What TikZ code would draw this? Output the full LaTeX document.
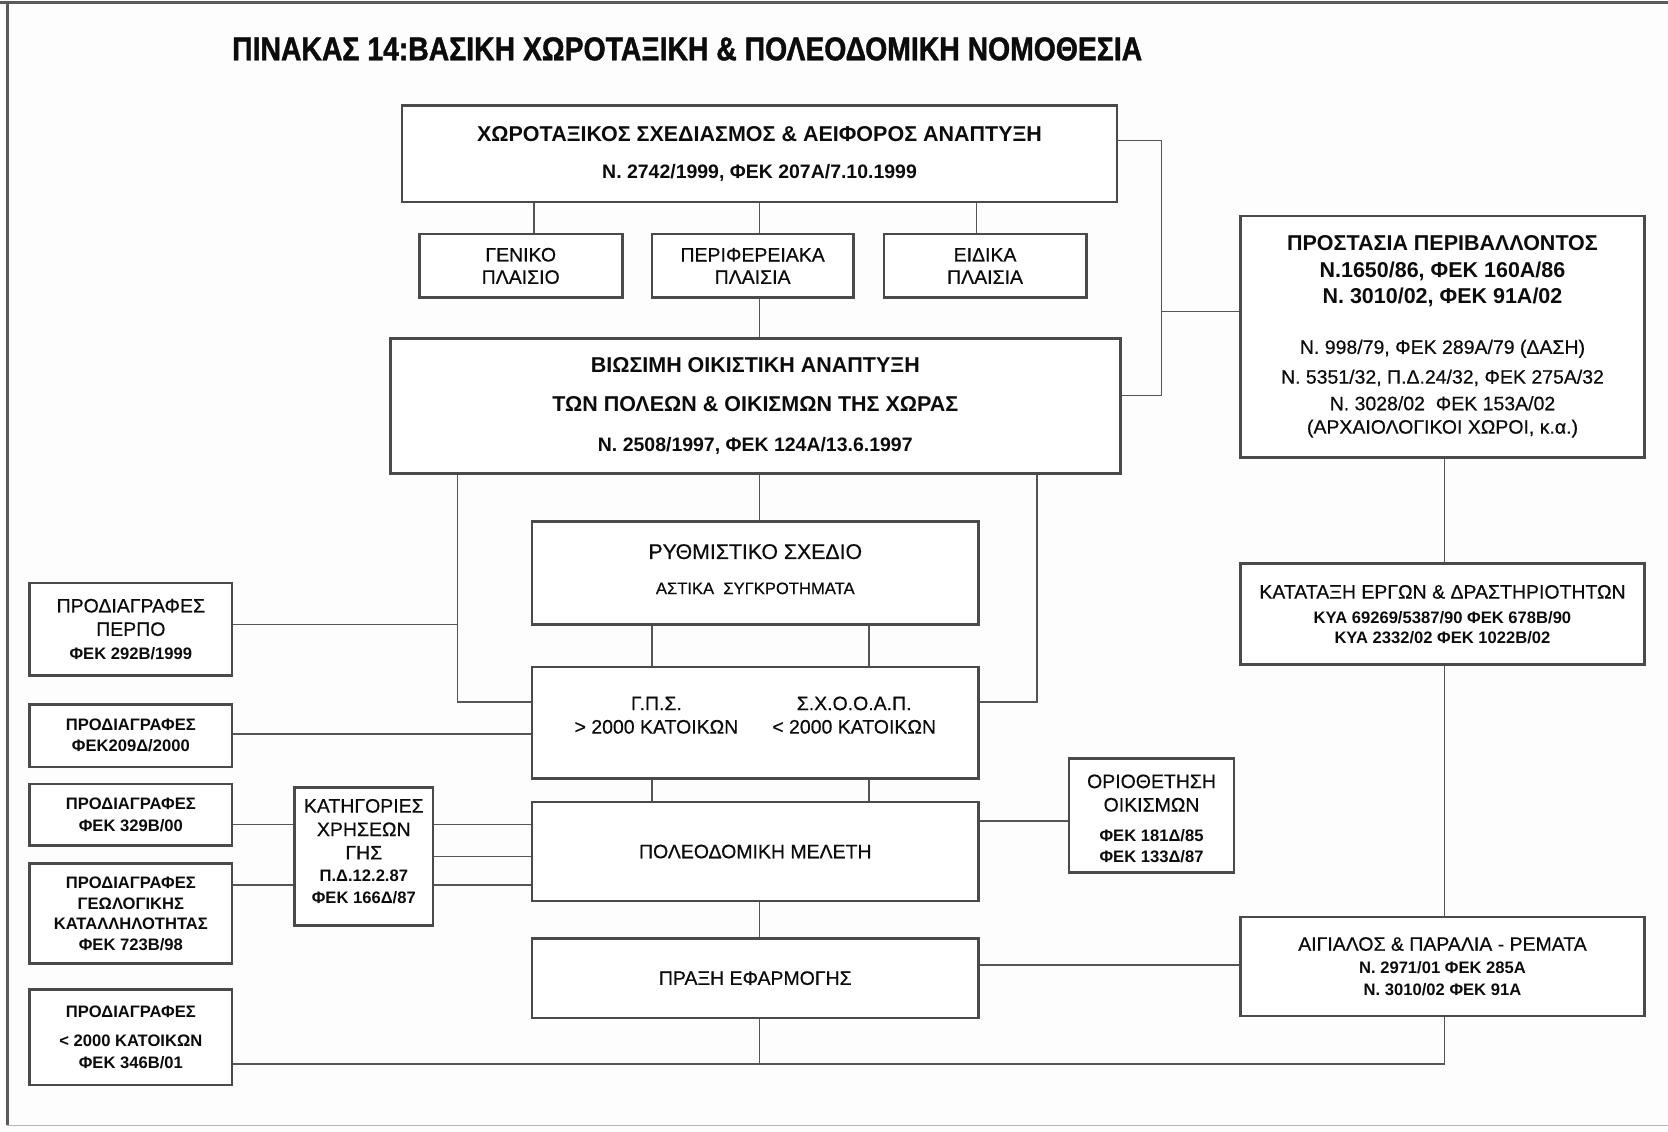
\documentclass[tikz,border=0pt]{standalone}
\usepackage{fontspec}
\setmainfont{Liberation Sans}[UprightFeatures={FakeBold=0.5}]
\newfontfamily\headfont{Liberation Sans}[FakeStretch=0.86,BoldFeatures={FakeBold=1.2}]
\definecolor{paper}{HTML}{FDFDFD}
\definecolor{ink}{HTML}{0C0C0C}
\definecolor{boxc}{HTML}{4A4A4A}
\definecolor{wirec}{HTML}{555555}
\definecolor{framec}{HTML}{5A5A5A}
% font helpers (sizes in pt, picture unit is 1pt)
\newcommand\lsk[1]{\fontsize{18.3}{#1}\selectfont}
\newcommand\fBL{\bfseries\fontsize{20.2}{22}\selectfont}
\newcommand\fBM{\bfseries\fontsize{18.3}{22}\selectfont}
\newcommand\fBS{\bfseries\fontsize{15.6}{18}\selectfont}
\begin{document}
\begin{tikzpicture}[x=1pt,y=-1pt,
  box/.style={draw=boxc,line width=2.6pt,fill=white,inner sep=0pt,align=center,text=ink},
  wire/.style={draw=wirec,line width=1.4pt},
  framel/.style={draw=framec,line width=2pt}]
\useasboundingbox (0,0) rectangle (1568,1064);
\fill[paper] (0,0) rectangle (1568,1064);

% page frame
\coordinate (ftl) at (7,2);
\coordinate (ftr) at (1568,2);
\coordinate (fbl) at (7,1058);
\coordinate (fbr) at (1568,1058);
\draw[framel,line width=3pt] (0,2) -- (ftr);
\draw[framel] (ftl) -- (fbl);
\draw[draw=framec!45,line width=1.2pt] (fbl) -- (fbr);

% title
\node[text=ink,font=\headfont\bfseries\fontsize{31}{32}\selectfont,inner sep=0pt] (title) at (646,46)
  {ΠΙΝΑΚΑΣ 14:ΒΑΣΙΚΗ ΧΩΡΟΤΑΞΙΚΗ \& ΠΟΛΕΟΔΟΜΙΚΗ ΝΟΜΟΘΕΣΙΑ};

% central column
\node[box,minimum width=672pt,minimum height=91pt,font=\lsk{35}] (plan) at (714,144.5)
  {{\fBL ΧΩΡΟΤΑΞΙΚΟΣ ΣΧΕΔΙΑΣΜΟΣ \& ΑΕΙΦΟΡΟΣ ΑΝΑΠΤΥΞΗ}\\{\fBM Ν. 2742/1999, ΦΕΚ 207Α/7.10.1999}};
\node[box,minimum width=191pt,minimum height=60pt,font=\lsk{21}] (gen) at (489.5,250) {ΓΕΝΙΚΟ\\ΠΛΑΙΣΙΟ};
\node[box,minimum width=189pt,minimum height=60pt,font=\lsk{21}] (reg) at (707.5,250) {ΠΕΡΙΦΕΡΕΙΑΚΑ\\ΠΛΑΙΣΙΑ};
\node[box,minimum width=190pt,minimum height=60pt,font=\lsk{21}] (spec) at (926,250) {ΕΙΔΙΚΑ\\ΠΛΑΙΣΙΑ};
\node[box,minimum width=686pt,minimum height=127pt,font=\lsk{37}] (dev) at (710,381.5)
  {{\fBL ΒΙΩΣΙΜΗ ΟΙΚΙΣΤΙΚΗ ΑΝΑΠΤΥΞΗ}\\{\fBL ΤΩΝ ΠΟΛΕΩΝ \& ΟΙΚΙΣΜΩΝ ΤΗΣ ΧΩΡΑΣ}\\{\fBM Ν. 2508/1997, ΦΕΚ 124Α/13.6.1997}};
\node[box,minimum width=420pt,minimum height=97pt,font=\lsk{33}] (master) at (710,538.5)
  {{\fontsize{20}{20}\selectfont ΡΥΘΜΙΣΤΙΚΟ ΣΧΕΔΙΟ}\\{\fontsize{15.6}{16}\selectfont ΑΣΤΙΚΑ\ \ ΣΥΓΚΡΟΤΗΜΑΤΑ}\\[-26pt]\mbox{}};
\node[box,minimum width=420pt,minimum height=105pt,font=\lsk{22}] (gps) at (710,679.5)
  {\raisebox{1pt}[0pt][0pt]{\begin{tabular}{@{}c@{\hspace{32pt}}c@{}}
    Γ.Π.Σ. & Σ.Χ.Ο.Ο.Α.Π.\\
    > 2000 ΚΑΤΟΙΚΩΝ & < 2000 ΚΑΤΟΙΚΩΝ
  \end{tabular}}};
\node[box,minimum width=420pt,minimum height=93pt,font=\lsk{20}] (pol) at (710,800.5) {ΠΟΛΕΟΔΟΜΙΚΗ ΜΕΛΕΤΗ};
\node[box,minimum width=420pt,minimum height=75pt,font=\lsk{20}] (praxi) at (710,919.5) {ΠΡΑΞΗ ΕΦΑΡΜΟΓΗΣ};

% right column
\node[box,minimum width=380pt,minimum height=227pt,font=\lsk{25}] (env) at (1356,316.5)
  {{\fBL ΠΡΟΣΤΑΣΙΑ ΠΕΡΙΒΑΛΛΟΝΤΟΣ}\\{\fBL Ν.1650/86, ΦΕΚ 160Α/86}\\{\fBL Ν. 3010/02, ΦΕΚ 91Α/02}\\[22pt]
   Ν. 998/79, ΦΕΚ 289Α/79 (ΔΑΣΗ)\\[3pt]
   Ν. 5351/32, Π.Δ.24/32, ΦΕΚ 275Α/32\\
   Ν. 3028/02\ \ ΦΕΚ 153Α/02\\[-3pt]
   (ΑΡΧΑΙΟΛΟΓΙΚΟΙ ΧΩΡΟΙ, κ.α.)};
\node[box,minimum width=380pt,minimum height=95pt,font=\lsk{21}] (class) at (1356,577.5)
  {ΚΑΤΑΤΑΞΗ ΕΡΓΩΝ \& ΔΡΑΣΤΗΡΙΟΤΗΤΩΝ\\[2pt]{\fBS ΚΥΑ 69269/5387/90 ΦΕΚ 678Β/90}\\[-2pt]{\fBS ΚΥΑ 2332/02 ΦΕΚ 1022Β/02}};
\node[box,minimum width=380pt,minimum height=93pt,font=\lsk{21}] (coast) at (1356,908.5)
  {ΑΙΓΙΑΛΟΣ \& ΠΑΡΑΛΙΑ - ΡΕΜΑΤΑ\\{\fBS Ν. 2971/01 ΦΕΚ 285Α}\\{\fBS Ν. 3010/02 ΦΕΚ 91Α}};
\node[box,minimum width=155pt,minimum height=107pt,font=\lsk{22}] (bound) at (1082.5,766.5)
  {\mbox{}\\[-3pt]ΟΡΙΟΘΕΤΗΣΗ\\ΟΙΚΙΣΜΩΝ\\[6pt]{\fBS ΦΕΚ 181Δ/85}\\[-2pt]{\fBS ΦΕΚ 133Δ/87}};

% left column
\node[box,minimum width=130pt,minimum height=130pt,font=\lsk{22}] (cat) at (342,805)
  {ΚΑΤΗΓΟΡΙΕΣ\\ΧΡΗΣΕΩΝ\\ΓΗΣ\\[-1pt]{\fBS Π.Δ.12.2.87}\\[-2pt]{\fBS ΦΕΚ 166Δ/87}\\[-12pt]\mbox{}};
\node[box,minimum width=190pt,minimum height=87pt,font=\lsk{22}] (sp1) at (123,591.5)
  {ΠΡΟΔΙΑΓΡΑΦΕΣ\\ΠΕΡΠΟ\\{\fBS ΦΕΚ 292Β/1999}};
\node[box,minimum width=190pt,minimum height=59pt,font=\lsk{20}] (sp2) at (123,691.5)
  {{\fBS ΠΡΟΔΙΑΓΡΑΦΕΣ}\\{\fBS ΦΕΚ209Δ/2000}};
\node[box,minimum width=190pt,minimum height=58pt,font=\lsk{20}] (sp3) at (123,766)
  {{\fBS ΠΡΟΔΙΑΓΡΑΦΕΣ}\\{\fBS ΦΕΚ 329Β/00}};
\node[box,minimum width=190pt,minimum height=94pt,font=\lsk{19.5}] (sp4) at (123,859)
  {{\fBS ΠΡΟΔΙΑΓΡΑΦΕΣ}\\{\fBS ΓΕΩΛΟΓΙΚΗΣ}\\{\fBS ΚΑΤΑΛΛΗΛΟΤΗΤΑΣ}\\{\fBS ΦΕΚ 723Β/98}};
\node[box,minimum width=190pt,minimum height=90pt,font=\lsk{24}] (sp5) at (123,975)
  {{\fBS ΠΡΟΔΙΑΓΡΑΦΕΣ}\\[3pt]{\fBS < 2000 ΚΑΤΟΙΚΩΝ}\\[-3pt]{\fBS ΦΕΚ 346Β/01}};

% guide coordinates for connector positions
\coordinate (x430) at (430,0);
\coordinate (x502) at (502,0);
\coordinate (x613) at (613,0);
\coordinate (xmid) at (714,0);
\coordinate (x817) at (817,0);
\coordinate (x918) at (918,0);
\coordinate (x975) at (975,0);
\coordinate (xbr) at (1092,0);
\coordinate (xrc) at (1358,0);
\coordinate (y132) at (0,132);
\coordinate (y293) at (0,293);
\coordinate (y372) at (0,372);
\coordinate (y587) at (0,587);
\coordinate (y660) at (0,660);
\coordinate (y690) at (0,690);
\coordinate (y772) at (0,772);
\coordinate (y775) at (0,775);
\coordinate (y805) at (0,805);
\coordinate (y832) at (0,832);
\coordinate (y907) at (0,907);
\coordinate (ybus) at (0,1000);

% connectors
\draw[wire] (plan.south -| x502) -- (gen.north -| x502);
\draw[wire] (plan.south -| xmid) -- (reg.north -| xmid);
\draw[wire] (plan.south -| x918) -- (spec.north -| x918);
\draw[wire] (reg.south -| xmid) -- (dev.north -| xmid);
\draw[wire] (plan.east |- y132) -| (xbr |- y372) -- (dev.east |- y372);
\draw[wire] (xbr |- y293) -- (env.west |- y293);
\draw[wire] (dev.south -| xmid) -- (master.north -| xmid);
\draw[wire] (dev.south -| x430) |- (gps.west |- y660);
\draw[wire] (dev.south -| x975) |- (gps.east |- y660);
\draw[wire] (sp1.east |- y587) -- (x430 |- y587);
\draw[wire] (sp2.east |- y690) -- (gps.west |- y690);
\draw[wire] (master.south -| x613) -- (gps.north -| x613);
\draw[wire] (master.south -| x817) -- (gps.north -| x817);
\draw[wire] (gps.south -| x613) -- (pol.north -| x613);
\draw[wire] (gps.south -| x817) -- (pol.north -| x817);
\draw[wire] (sp3.east |- y775) -- (cat.west |- y775);
\draw[wire] (sp4.east |- y832) -- (cat.west |- y832);
\draw[wire] (cat.east |- y775) -- (pol.west |- y775);
\draw[wire] (cat.east |- y805) -- (pol.west |- y805);
\draw[wire] (cat.east |- y832) -- (pol.west |- y832);
\draw[wire] (pol.east |- y772) -- (bound.west |- y772);
\draw[wire] (pol.south -| xmid) -- (praxi.north -| xmid);
\draw[wire] (praxi.east |- y907) -- (coast.west |- y907);
\draw[wire] (praxi.south -| xmid) -- (xmid |- ybus);
\draw[wire] (sp5.east |- ybus) -| (coast.south -| xrc);
\draw[wire] (env.south -| xrc) -- (class.north -| xrc);
\draw[wire] (class.south -| xrc) -- (coast.north -| xrc);
\end{tikzpicture}
\end{document}
